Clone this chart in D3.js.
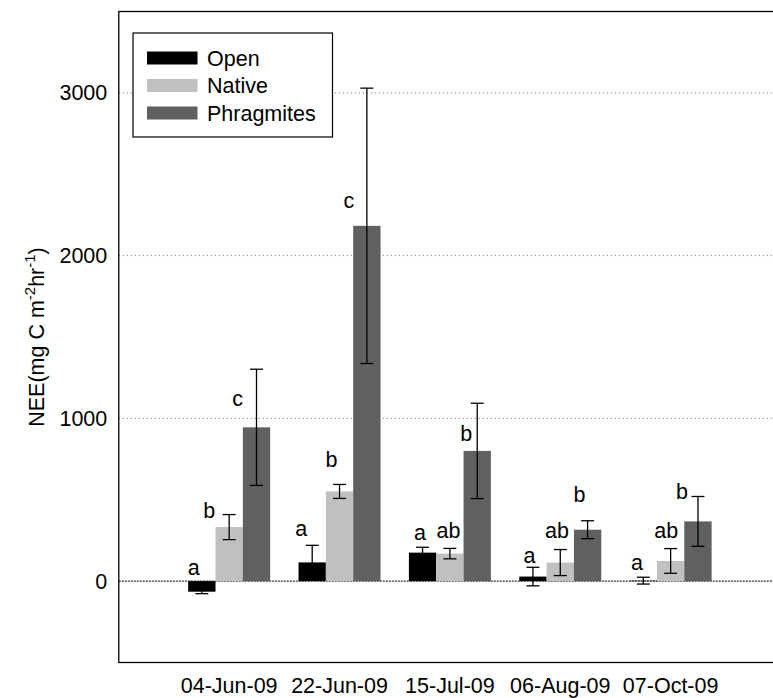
<!DOCTYPE html>
<html>
<head>
<meta charset="utf-8">
<script src="https://cdn.jsdelivr.net/npm/d3@7"></script>
<style>
  body { margin: 0; background: #fff; }
  text { font-family: "Liberation Sans", Arial, Helvetica, sans-serif; }
</style>
</head>
<body>
<svg id="chart" width="773" height="698"></svg>
<script>
// ---- data ----
const dates = ["04-Jun-09", "22-Jun-09", "15-Jul-09", "06-Aug-09", "07-Oct-09"];
const seriesNames = ["Open", "Native", "Phragmites"];

const openMean   = [-65, 115, 175, 28, 3];
const openErr    = [12, 105, 33, 57, 21];
const nativeMean = [332, 551, 169, 114, 124];
const nativeErr  = [77, 43, 32, 80, 76];
const phragMean  = [945, 2183, 800, 316, 367];
const phragErr   = [357, 846, 293, 55, 153];

// significance letters
const openLetters   = ["a", "a", "a", "a", "a"];
const nativeLetters = ["b", "b", "ab", "ab", "ab"];
const phragLetters  = ["c", "c", "b", "b", "b"];

const yTicks = [0, 1000, 2000, 3000];
const yDomain = [-500, 3500];

// letter placement: baseline level (NEE units) and sideways nudge (px)
const openLetterLevel   = [40, 276, 255, 112, 66];
const nativeLetterLevel = [385, 703, 263, 263, 263];
const phragLetterLevel  = [1076, 2292, 860, 485, 502];
const openLetterNudge   = [-8, -11, -2.5, -3.5, -6.3];
const nativeLetterNudge = [-20, -8, -1.5, -3.3, -4.3];
const phragLetterNudge  = [-19, -18, -11, -8, -16];

// ---- layout ----
const colors = { Open: "#000000", Native: "#c0c0c0", Phragmites: "#606060" };
const FS = 21.5;
const frame = { left: 118.8, right: 781, top: 11.5, bottom: 662.5 };
const groupWidth = 82;

const series = [
  { name: "Open",       mean: openMean,   err: openErr,   letters: openLetters,   level: openLetterLevel,   nudge: openLetterNudge },
  { name: "Native",     mean: nativeMean, err: nativeErr, letters: nativeLetters, level: nativeLetterLevel, nudge: nativeLetterNudge },
  { name: "Phragmites", mean: phragMean,  err: phragErr,  letters: phragLetters,  level: phragLetterLevel,  nudge: phragLetterNudge }
];

const rows = [];
series.forEach(s => dates.forEach((d, i) => rows.push({
  date: d, name: s.name, value: s.mean[i], err: s.err[i],
  letter: s.letters[i], level: s.level[i], nudge: s.nudge[i]
})));

const svg = d3.select("#chart");

const x0 = d3.scaleBand().domain(dates)
  .range([frame.left, frame.right]).paddingInner(0).paddingOuter(0.5);
const x1 = d3.scaleBand().domain(seriesNames).range([0, groupWidth]).padding(0);
const y = d3.scaleLinear().domain(yDomain).range([frame.bottom, frame.top]);

const groupStart = d => x0(d) + (x0.bandwidth() - groupWidth) / 2;
const barCenter = r => groupStart(r.date) + x1(r.name) + x1.bandwidth() / 2;

// gridlines
svg.append("g").selectAll("line")
  .data(yTicks.filter(t => t !== 0))
  .join("line")
  .attr("x1", frame.left).attr("x2", frame.right)
  .attr("y1", d => y(d)).attr("y2", d => y(d))
  .attr("stroke", "#6a6a6a").attr("stroke-width", 1)
  .attr("stroke-dasharray", "1,3");

// zero reference line
svg.append("line")
  .attr("x1", frame.left).attr("x2", frame.right)
  .attr("y1", y(0)).attr("y2", y(0))
  .attr("stroke", "#333").attr("stroke-width", 1.3)
  .attr("stroke-dasharray", "2,1");

// bars
svg.append("g").selectAll("rect")
  .data(rows)
  .join("rect")
  .attr("x", r => groupStart(r.date) + x1(r.name))
  .attr("width", x1.bandwidth())
  .attr("y", r => y(Math.max(0, r.value)))
  .attr("height", r => Math.abs(y(r.value) - y(0)))
  .attr("fill", r => colors[r.name]);

// error bars
const capHalf = 6.5;
const eb = svg.append("g").attr("stroke", "#000").attr("stroke-width", 1.3);
rows.forEach(r => {
  const cx = barCenter(r);
  const yt = y(r.value + r.err), yb = y(r.value - r.err);
  eb.append("line").attr("x1", cx).attr("x2", cx).attr("y1", yt).attr("y2", yb);
  eb.append("line").attr("x1", cx - capHalf).attr("x2", cx + capHalf).attr("y1", yt).attr("y2", yt);
  eb.append("line").attr("x1", cx - capHalf).attr("x2", cx + capHalf).attr("y1", yb).attr("y2", yb);
});

// significance letters
svg.append("g").selectAll("text")
  .data(rows)
  .join("text")
  .attr("x", r => barCenter(r) + r.nudge)
  .attr("y", r => y(r.level))
  .attr("text-anchor", "middle")
  .attr("font-size", FS)
  .attr("fill", "#000")
  .text(r => r.letter);

// y axis labels
const yAxis = svg.append("g")
  .attr("transform", `translate(${frame.left},0)`)
  .call(d3.axisLeft(y).tickValues(yTicks).tickSize(0).tickPadding(11.5).tickFormat(d3.format("d")));
yAxis.select(".domain").remove();
yAxis.selectAll("text").attr("font-size", FS).attr("font-family", null).attr("fill", "#000");

// x axis labels
const xAxis = svg.append("g")
  .attr("transform", `translate(0,${frame.bottom})`)
  .call(d3.axisBottom(x0).tickSize(0).tickPadding(15.5));
xAxis.select(".domain").remove();
xAxis.selectAll("text").attr("font-size", FS).attr("font-family", null).attr("fill", "#000");

// frame
svg.append("rect")
  .attr("x", frame.left).attr("y", frame.top)
  .attr("width", frame.right - frame.left).attr("height", frame.bottom - frame.top)
  .attr("fill", "none").attr("stroke", "#000").attr("stroke-width", 1.3);

// y axis title
const title = svg.append("text")
  .attr("transform", "translate(44,337) rotate(-90)")
  .attr("text-anchor", "middle")
  .attr("font-size", FS)
  .attr("fill", "#000");
title.append("tspan").text("NEE(mg C m");
title.append("tspan").attr("font-size", 15).attr("dy", -9).text("-2");
title.append("tspan").attr("dy", 9).text("hr");
title.append("tspan").attr("font-size", 15).attr("dy", -9).text("-1");
title.append("tspan").attr("dy", 9).text(")");

// legend
const legend = svg.append("g");
legend.append("rect")
  .attr("x", 133).attr("y", 33).attr("width", 199.5).attr("height", 104)
  .attr("fill", "#fff").attr("stroke", "#000").attr("stroke-width", 1.2);
seriesNames.forEach((n, i) => {
  const cy = 58 + i * 27.5;
  legend.append("rect")
    .attr("x", 147).attr("y", cy - 6.5).attr("width", 50.5).attr("height", 13)
    .attr("fill", colors[n]);
  legend.append("text")
    .attr("x", 207).attr("y", cy + 7.7)
    .attr("font-size", FS).attr("fill", "#000")
    .text(n);
});
</script>
</body>
</html>
